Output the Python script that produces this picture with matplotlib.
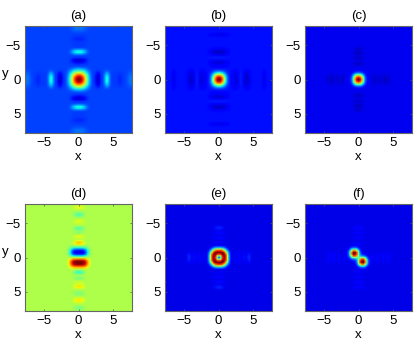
import numpy as np
import matplotlib
matplotlib.use("Agg")
import matplotlib.pyplot as plt

plt.rcParams['font.family'] = ['Liberation Sans', 'DejaVu Sans']

titles = ['(a)', '(b)', '(c)', '(d)', '(e)', '(f)']
tick_values = [-5, 0, 5]

a_bg = 0.19
a_core = [0.81, 0.79, 0.71, 0.58, 0.42, 0.27, 0.14, 0.05]
a_arm = [0, 0, 0, 0, 0, 0, 0, 0, 0, -0.02, -0.06, -0.12, -0.09, -0.02, 0.0, 0.08, 0.18,
         0.17, 0.06, 0.0, -0.01, -0.01, -0.01, -0.02, -0.03, -0.02, -0.01, 0, 0.01, 0.03, 0.05, 0.05, 0.04]
a_cross = [1, 1, 0.9, 0.7, 0.45, 0.2, 0.05]

b_bg = 0.14
b_core = [0.86, 0.82, 0.68, 0.46, 0.25, 0.10, 0.02]
b_arm = [0, 0, 0, 0, 0, 0, 0, -0.01, -0.03, -0.04, -0.065, -0.045, -0.005, 0.01, -0.01, -0.05, -0.075,
         -0.065, -0.04, -0.01, 0, 0, 0, 0, 0, -0.005, -0.04, -0.04, -0.005, 0, 0, 0, 0]
b_cross = [1, 1, 0.95, 0.85, 0.7, 0.45, 0.2, 0.05]

c_bg = 0.10
c_core = [0.90, 0.84, 0.64, 0.36, 0.14, 0.04]
c_arm = [0, 0, 0, 0, 0, 0, 0, 0, -0.01, -0.035, -0.03, -0.01, -0.02, -0.035, -0.01, -0.035, -0.04,
         -0.015, -0.03, -0.015, 0, 0, 0, 0, 0, 0, 0, 0, 0, 0, 0, 0, 0]
c_cross = [1, 0.95, 0.75, 0.4, 0.1]

d_bg = 0.56
d_core_y = [0, 0.22, 0.42, 0.47, 0.44, 0.30, 0.14, 0.04]
d_core_x = [1, 1, 0.97, 0.9, 0.72, 0.45, 0.2, 0.05]
d_arm_y = [0, 0, 0, 0, 0, 0, 0, -0.03, -0.11, -0.14, -0.07, 0.0, -0.07, -0.04, 0.02, 0.04,
           0.05, 0.11, 0.07, 0.0, -0.02, -0.06, -0.05, 0.0, 0.04, 0.10, 0.10, 0.02, 0.0, -0.05, -0.07, -0.03, -0.02]
d_cross = [1, 0.95, 0.75, 0.4, 0.1]

e_bg = 0.09
# one quadrant of the ring, rows and columns 0 to 2 every 0.25
e_ring = [
    [0.20, 0.45, 0.85, 1.00, 0.88, 0.58, 0.28, 0.13, 0.09],
    [0.45, 0.58, 0.90, 1.00, 0.88, 0.58, 0.28, 0.13, 0.09],
    [0.85, 0.90, 1.00, 1.00, 0.82, 0.52, 0.26, 0.12, 0.09],
    [1.00, 1.00, 1.00, 0.90, 0.68, 0.42, 0.22, 0.11, 0.09],
    [0.88, 0.88, 0.82, 0.68, 0.48, 0.30, 0.16, 0.10, 0.09],
    [0.58, 0.58, 0.52, 0.42, 0.30, 0.18, 0.12, 0.09, 0.09],
    [0.28, 0.28, 0.26, 0.22, 0.16, 0.12, 0.10, 0.09, 0.09],
    [0.13, 0.13, 0.12, 0.11, 0.10, 0.09, 0.09, 0.09, 0.09],
    [0.09, 0.09, 0.09, 0.09, 0.09, 0.09, 0.09, 0.09, 0.09],
]
e_arm = [0, 0, 0, 0, 0, 0, 0, 0, 0.03, 0.03, 0.0, 0.035, 0.04, 0.0, 0.04, 0.045, 0.005,
         0.06, 0.07, 0.005, 0, 0, 0, 0, 0, 0, 0, 0, 0, 0, 0, 0, 0]
e_cross = [1, 0.95, 0.75, 0.4, 0.1]

f_bg = 0.09
# blob profile runs from -2 to 2 across the centre
f_blob = [0, 0.03, 0.12, 0.35, 0.72, 0.95, 0.97, 0.78, 0.42, 0.15, 0.04, 0.01, 0, 0, 0, 0, 0]
f_arm = [0, 0, 0, 0, 0, 0, 0, 0, 0.02, 0.02, 0.0, 0.02, 0.025, 0.0, 0.025, 0.03, 0.005,
         0.035, 0.04, 0.005, 0, 0, 0, 0, 0, 0, 0, 0, 0, 0, 0, 0, 0]
f_cross = [1, 0.95, 0.75, 0.4, 0.1]


def mirror(vals, sign=1):
    half = np.zeros(33)
    half[:len(vals)] = vals
    return np.concatenate([sign * half[:0:-1], half])


def centred(vals):
    full = np.zeros(65)
    full[24:41] = vals
    return full


def arms(bg, arm, cross):
    return bg + np.outer(mirror(arm), mirror(cross)) + np.outer(mirror(cross), mirror(arm))


def field(bg, core, arm, cross):
    return arms(bg, arm, cross) + np.outer(mirror(core), mirror(core)) / max(core)


za = field(a_bg, a_core, a_arm, a_cross)
zb = field(b_bg, b_core, b_arm, b_cross)
zc = field(c_bg, c_core, c_arm, c_cross)
zd = d_bg + np.outer(mirror(d_core_y, -1), mirror(d_core_x)) + np.outer(mirror(d_arm_y, -1), mirror(d_cross))
ze = arms(e_bg, e_arm, e_cross)
ring = np.array(e_ring)
ring = np.hstack([ring[:, :0:-1], ring])
ze[24:41, 24:41] = np.vstack([ring[:0:-1], ring])
zf = arms(f_bg, f_arm, f_cross)
zf = zf + np.outer(centred(f_blob), centred(f_blob))
zf = zf + np.outer(centred(f_blob)[::-1], centred(f_blob)[::-1])
fields = [za, zb, zc, zd, ze, zf]

W, H = 415, 343
lefts = [25, 165, 305]
tops = [26, 204]
size = 107

fig = plt.figure(figsize=(W / 100, H / 100), dpi=100)
for i, z in enumerate(fields):
    row, col = divmod(i, 3)
    ax = fig.add_axes([lefts[col] / W, 1 - (tops[row] + size) / H, size / W, size / H])
    ax.imshow(z, cmap='jet', vmin=0, vmax=1, extent=(-8, 8, 8, -8),
              interpolation='bilinear', aspect='auto')
    ax.set_xlim(-7.8, 7.8)
    ax.set_ylim(7.8, -7.8)
    ax.set_xticks(tick_values)
    ax.set_yticks(tick_values)
    ax.tick_params(direction='in', length=1.5, width=0.5, color='#555555', labelsize=9.5, pad=3)
    ax.xaxis.set_ticks_position('both')
    ax.yaxis.set_ticks_position('both')
    for s in ax.spines.values():
        s.set_color('#666666')
        s.set_linewidth(0.8)
    ax.set_title(titles[i], fontsize=9.5, pad=5)
    ax.set_xlabel('x', fontsize=9.5)
    ax.xaxis.set_label_coords(0.5, -0.165, transform=ax.transAxes)
    if col == 0:
        ax.set_ylabel('y', fontsize=9.5, rotation=0, va='center', ha='center')
        ax.yaxis.set_label_coords(-0.18, 0.55, transform=ax.transAxes)

fig.savefig('out.png', dpi=100)
